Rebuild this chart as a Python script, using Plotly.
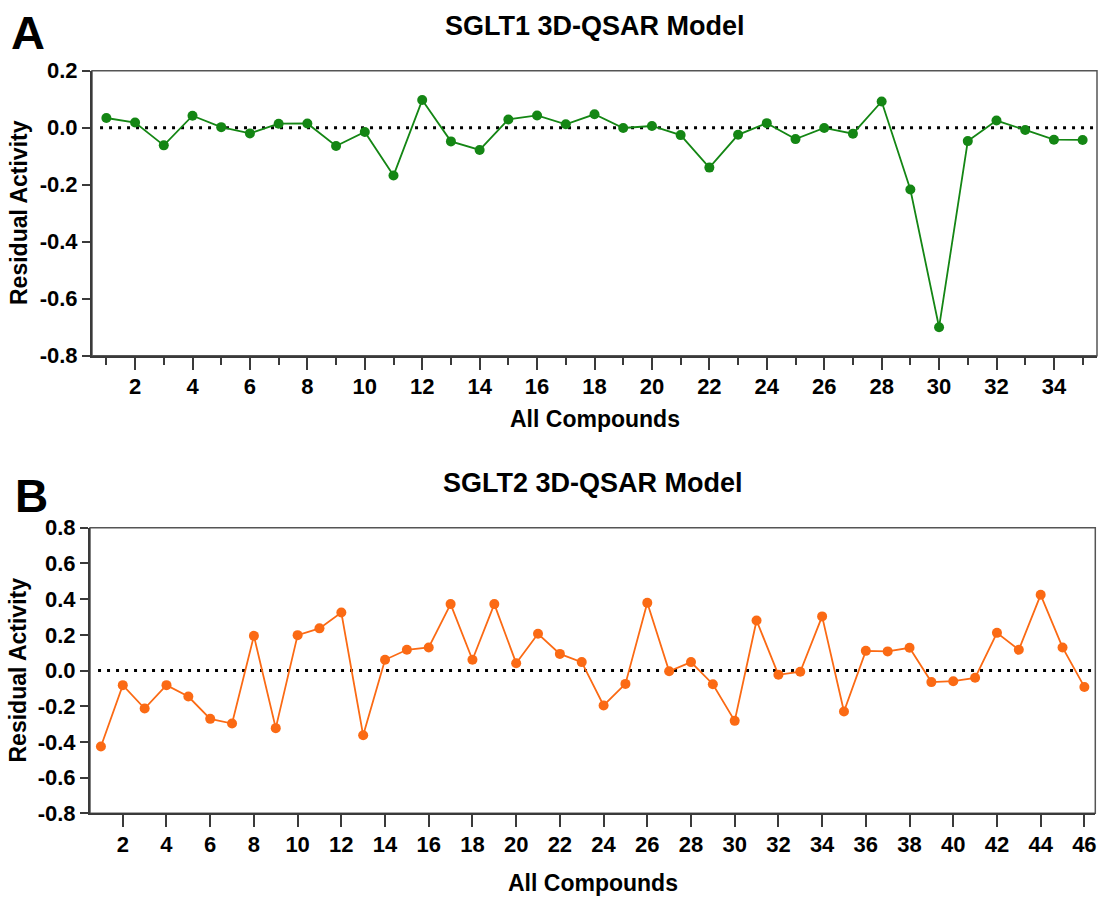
import plotly.graph_objects as go

# ---------------- data ----------------
compounds_1 = list(range(1, 36))
residual_1 = [0.034, 0.018, -0.062, 0.042, 0.002, -0.020, 0.014, 0.015, -0.064, -0.015,
              -0.168, 0.097, -0.048, -0.078, 0.029, 0.043, 0.012, 0.047, -0.001, 0.006,
              -0.026, -0.140, -0.025, 0.016, -0.040, -0.001, -0.021, 0.092, -0.217, -0.700,
              -0.047, 0.025, -0.008, -0.042, -0.043]

compounds_2 = list(range(1, 47))
residual_2 = [-0.426, -0.082, -0.213, -0.082, -0.146, -0.271, -0.297, 0.194, -0.323, 0.198,
              0.236, 0.325, -0.363, 0.060, 0.116, 0.129, 0.372, 0.060, 0.372, 0.041,
              0.206, 0.093, 0.047, -0.196, -0.075, 0.379, -0.004, 0.047, -0.077, -0.282,
              0.280, -0.024, -0.007, 0.303, -0.230, 0.110, 0.107, 0.127, -0.065, -0.060,
              -0.041, 0.211, 0.116, 0.424, 0.129, -0.092]

y_ticks_1 = [-0.8, -0.6, -0.4, -0.2, 0.0, 0.2]
y_ticktext_1 = ["-0.8", "-0.6", "-0.4", "-0.2", "0.0", "0.2"]
y_ticks_2 = [-0.8, -0.6, -0.4, -0.2, 0.0, 0.2, 0.4, 0.6, 0.8]
y_ticktext_2 = ["-0.8", "-0.6", "-0.4", "-0.2", "0.0", "0.2", "0.4", "0.6", "0.8"]

title_1 = "SGLT1 3D-QSAR Model"
title_2 = "SGLT2 3D-QSAR Model"
x_title = "All Compounds"
y_title = "Residual Activity"

# ---------------- layout helpers ----------------
W, H = 1098, 897
def px_x(v):
    return v / W
def px_y(v):
    return 1 - v / H

FONT = "Liberation Sans, Arial, Helvetica, sans-serif"
GREEN = "#148614"
ORANGE = "#FB6A14"
AXC = "#3a3a3a"

fig = go.Figure()
fig.add_trace(go.Scatter(x=compounds_1, y=residual_1, mode="lines+markers",
                         line=dict(color=GREEN, width=1.8),
                         marker=dict(color=GREEN, size=10),
                         xaxis="x", yaxis="y", showlegend=False, cliponaxis=False))
fig.add_trace(go.Scatter(x=compounds_2, y=residual_2, mode="lines+markers",
                         line=dict(color=ORANGE, width=1.8),
                         marker=dict(color=ORANGE, size=10),
                         xaxis="x2", yaxis="y2", showlegend=False, cliponaxis=False))

tickfont = dict(family=FONT, size=22, color="black", weight="bold")

def yax(rng, dom, anchor, vals, texts):
    return dict(domain=dom, range=rng, anchor=anchor, showgrid=False, zeroline=False,
                automargin=False,
                showline=True, linecolor=AXC, linewidth=2, ticks="outside", ticklen=8,
                tickwidth=2, tickcolor=AXC, tickmode="array", tickvals=vals,
                ticktext=texts, tickfont=tickfont, layer="above traces")

def xax(rng, dom, anchor, minor):
    d = dict(domain=dom, range=rng, anchor=anchor, showgrid=False, zeroline=False,
             automargin=False,
             showline=True, linecolor=AXC, linewidth=2, ticks="outside", ticklen=12,
             tickwidth=2, tickcolor=AXC, tickmode="linear", tick0=2, dtick=2,
             tickfont=tickfont, ticklabelstandoff=-2, layer="above traces")
    if minor:
        d["minor"] = dict(ticks="outside", tickmode="linear", tick0=1, dtick=1,
                          ticklen=7, tickwidth=2, tickcolor=AXC)
    return d

top_x = [px_x(92), px_x(1097)]
top_y = [px_y(355.7), px_y(70.7)]
bot_x = [px_x(90), px_x(1095.3)]
bot_y = [px_y(813.3), px_y(527.7)]

fig.update_layout(
    template="none",
    width=W, height=H, autosize=False,
    margin=dict(l=0, r=0, t=0, b=0, pad=0, autoexpand=False),
    paper_bgcolor="white", plot_bgcolor="white",
    xaxis=xax([0.5, 35.5], top_x, "y", True),
    yaxis=yax([-0.8, 0.2], top_y, "x", y_ticks_1, y_ticktext_1),
    xaxis2=xax([0.5, 46.5], bot_x, "y2", False),
    yaxis2=yax([-0.8, 0.8], bot_y, "x2", y_ticks_2, y_ticktext_2),
)

# frame (top / right borders) and zero reference lines
for xr, yr in (("x", "y"), ("x2", "y2")):
    fig.add_shape(type="rect", xref=f"{xr} domain", yref=f"{yr} domain",
                  x0=0, x1=1, y0=0, y1=1, line=dict(color="#555555", width=1.5),
                  layer="below")
    fig.add_shape(type="line", xref=f"{xr} domain", yref=yr, x0=0.008, x1=1, y0=0, y1=0,
                  line=dict(color="black", width=3, dash="3px,6px"), layer="below")

def ann(text, x, y, size, angle=0, xanchor="center"):
    fig.add_annotation(text=text, x=px_x(x), y=px_y(y), xref="paper", yref="paper",
                       showarrow=False, xanchor=xanchor, yanchor="middle",
                       textangle=angle,
                       font=dict(family=FONT, size=size, color="black", weight="bold"))

ann("A", 9, 33, 47, xanchor="left")
ann("B", 13, 496, 46, xanchor="left")
ann(title_1, 594.5, 26, 27)
ann(title_2, 592.5, 483, 27)
ann(x_title, 594.5, 419, 23)
ann(x_title, 592.5, 883, 23)
ann(y_title, 19, 213, 23, angle=-90)
ann(y_title, 17, 670.5, 23, angle=-90)

fig.write_html("out.html",
               config={"displayModeBar": False},
               post_script="document.body.style.margin='0';document.body.style.overflow='hidden';")
